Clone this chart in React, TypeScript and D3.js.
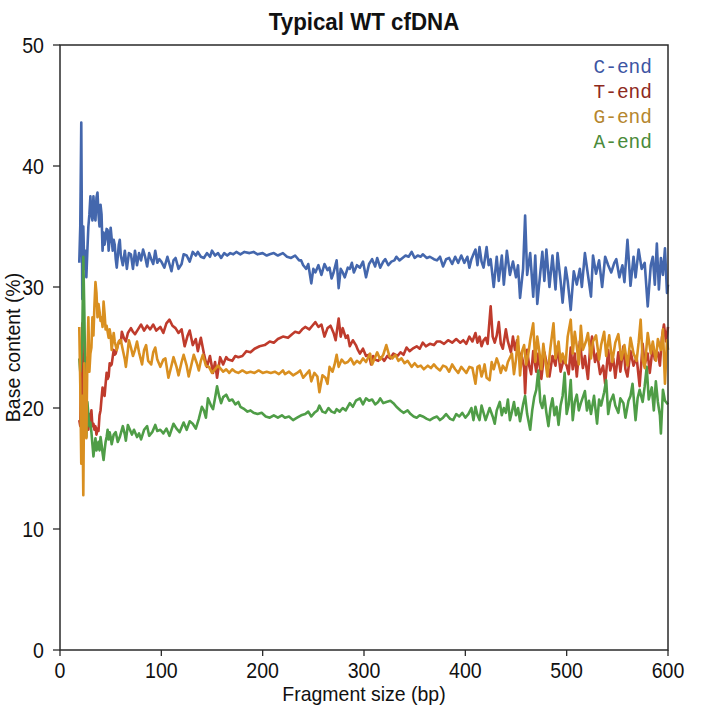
import React from "react";
import * as d3 from "d3";

type Pt = [number, number];

const xTicks = [0, 100, 200, 300, 400, 500, 600];
const yTicks = [0, 10, 20, 30, 40, 50];

const cEnd: Pt[] = [[19,32],[20,35],[21,43.6],[22,29],[23,35],[24,31.5],[25,33],[26,30.8],[27,33],[28,35],[29,36],[30,37.5],[31,36],[32,35.5],[33,37.5],[34,36],[35,35.5],[36,37.4],[37,37.8],[38,36],[39,35],[40,36.8],[41,36],[42,33],[43,34.5],[44,33.5],[45,34],[46,34.8],[47,34.7],[48,33],[49,34],[50,34.9],[51,34],[52,33],[53,33.9],[54,33.5],[55,32.3],[56,31.6],[57,32.5],[58,33.5],[59,33.9],[60,32.6],[62,31.8],[64,33],[66,31.5],[68,32.8],[70,32.7],[72,31.5],[74,33],[76,31.8],[78,32.8],[80,32.2],[82,33.1],[84,32.5],[86,31.7],[88,32.8],[90,32.3],[92,31.9],[94,33],[96,32],[98,32.3],[100,32.1],[103,31.6],[106,32.5],[110,31.3],[112,32.2],[114,32.4],[117,31.5],[120,31.9],[122,32.7],[125,32.6],[128,32.1],[131,32.9],[134,32.6],[136,32.9],[139,32.5],[142,32.4],[145,32.8],[148,32.5],[150,33.0],[153,32.6],[156,32.8],[159,32.4],[162,32.8],[165,32.6],[168,32.8],[171,32.7],[174,32.9],[178,32.7],[182,32.9],[187,32.8],[191,32.9],[195,32.7],[200,32.8],[204,32.6],[207,32.7],[211,32.8],[215,32.6],[220,32.8],[224,32.5],[228,32.4],[232,32.6],[236,32.2],[238,32.2],[240,31.8],[243,31.5],[245,31.9],[248,30.3],[250,31.5],[252,31.2],[255,31.8],[258,31],[261,31.9],[264,31.4],[266,31.6],[268,30.7],[270,31.2],[273,32.2],[275,29.9],[277,31.5],[279,31.2],[281,30.8],[284,31.6],[286,31.5],[288,32.0],[290,31.2],[293,31.8],[296,31.6],[299,32.1],[302,30.8],[305,31.9],[308,32.3],[311,31.7],[313,32.4],[316,31.6],[319,32.1],[321,32.3],[324,31.8],[327,32.1],[330,32.2],[332,32.5],[335,32.2],[338,32.4],[341,32.6],[344,32.5],[347,32.9],[350,32.4],[353,32.6],[356,32.5],[358,32.7],[362,32.4],[365,32.5],[369,32.3],[372,32.2],[375,32.5],[378,31.7],[381,32.3],[384,32.4],[387,31.9],[390,32.5],[393,32.0],[396,32.6],[399,32.0],[402,32.5],[404,31.6],[406,32.3],[408,32.7],[410,33.1],[412,31.8],[414,33.3],[416,32.1],[418,31.6],[421,33.3],[423,31.8],[425,32.3],[428,30.0],[431,32.5],[433,30.5],[436,32.6],[438,30.2],[441,33.0],[444,31.0],[447,32.1],[450,30.8],[452,31.8],[454,29.1],[457,31.5],[459,35.9],[461,31.0],[464,32.8],[467,29.2],[469,32.6],[471,28.6],[474,31.2],[476,32.9],[478,30.5],[480,33.1],[483,30.0],[486,32.6],[489,29.8],[491,32.8],[494,30.5],[496,28.7],[499,31.6],[501,30.5],[504,28.1],[507,31.3],[510,30.2],[513,31.5],[515,30.0],[518,32.8],[521,31.0],[524,29.2],[526,32.6],[529,31.1],[532,32.2],[535,30.0],[538,32.5],[541,31.8],[544,31.2],[547,32.0],[549,32.3],[552,30.8],[555,31.8],[557,30.4],[560,33.9],[563,30.1],[566,32.5],[568,30.8],[571,33.1],[574,31.5],[577,32.0],[580,28.4],[583,31.8],[585,32.5],[587,30.2],[589,33.6],[591,29.8],[593,32.4],[595,31.0],[597,33.2],[599,29.5],[600,30.2]];

const tEnd: Pt[] = [[19,19],[20,18.5],[21,24],[22,27],[23,20.4],[24,22],[25,24.2],[26,21],[27,19.5],[28,18.2],[29,19.5],[30,18.8],[31,19.8],[32,18.5],[33,18.7],[34,18.2],[35,18.5],[36,17.8],[37,18.3],[38,18.1],[39,19.4],[40,19.8],[41,20.8],[42,21.7],[43,21.2],[44,21.0],[45,22.0],[46,22.9],[47,22.4],[48,22.6],[49,23.7],[50,23.5],[51,23.6],[52,24.2],[53,24.8],[54,24.4],[55,24.5],[57,25.2],[59,25.6],[60,25.4],[61,26.3],[63,25.8],[65,25.5],[67,26.2],[70,26.6],[72,26.3],[74,26.1],[77,26.5],[80,26.9],[83,26.4],[86,26.8],[89,26.5],[92,26.9],[95,26.4],[99,26.7],[102,26.2],[105,27.0],[108,27.3],[111,26.8],[114,26.6],[117,26.2],[120,26.5],[123,25.1],[126,26.0],[128,26.4],[131,25.2],[134,25.7],[136,24.7],[139,25.8],[142,24.5],[145,23.4],[148,24.3],[151,22.9],[153,23.8],[155,22.5],[158,24.2],[161,23.6],[164,24.2],[166,24.0],[170,23.9],[173,24.3],[176,24.2],[180,24.3],[184,24.7],[188,24.6],[192,24.9],[197,25.1],[202,25.2],[207,25.5],[211,25.4],[215,25.7],[220,25.9],[225,25.8],[229,26.1],[232,26.3],[236,26.2],[239,26.5],[242,26.7],[246,26.5],[249,26.8],[252,27.1],[255,26.7],[258,26.9],[261,25.9],[264,26.6],[267,26.8],[270,26.2],[272,25.6],[275,27.4],[277,25.9],[279,26.6],[282,25.8],[284,26.0],[286,25.1],[289,25.6],[292,25.2],[294,24.8],[296,24.5],[299,24.9],[302,24.3],[305,24.4],[307,23.6],[309,24.3],[311,24.0],[314,23.9],[317,24.2],[320,23.9],[323,24.3],[326,24.1],[329,24.5],[333,24.3],[336,24.6],[339,24.4],[342,25.0],[345,24.7],[348,24.9],[352,25.1],[355,24.9],[358,25.4],[361,25.1],[365,25.3],[369,25.2],[372,25.5],[375,25.5],[379,25.3],[383,25.6],[387,25.4],[391,25.7],[395,25.4],[398,25.6],[401,25.3],[404,25.9],[407,25.5],[410,26.2],[412,25.4],[414,25.9],[416,25.1],[418,25.6],[420,25.8],[422,25.3],[425,28.4],[427,25.9],[429,25.4],[431,26.0],[433,27.1],[435,25.3],[437,24.9],[440,26.5],[442,25.5],[445,24.6],[447,25.9],[449,24.8],[451,25.6],[453,24.6],[456,24.2],[458,23.3],[459,21.2],[461,24.8],[463,23.5],[465,22.8],[467,24.7],[470,23.0],[472,24.5],[475,22.4],[478,24.6],[481,23.4],[483,22.6],[486,24.3],[489,23.5],[491,25.1],[494,23.0],[497,24.0],[500,23.5],[502,22.8],[504,25.0],[506,23.2],[508,24.5],[510,22.6],[513,25.5],[516,23.3],[518,24.3],[521,22.4],[523,24.8],[525,25.9],[528,23.8],[530,24.5],[533,22.8],[536,23.5],[538,22.0],[541,24.8],[543,23.1],[546,24.1],[548,22.5],[551,24.6],[553,23.0],[556,25.1],[558,23.2],[560,22.6],[563,24.7],[566,23.5],[569,24.2],[572,21.8],[575,25.3],[577,23.6],[580,24.5],[582,22.9],[585,25.1],[587,24.0],[590,24.6],[592,23.5],[594,25.8],[596,26.9],[598,25.5],[600,26.7]];

const gEnd: Pt[] = [[19,26.7],[20,22],[21,15.4],[22,21],[23,12.8],[24,23.7],[25,20],[26,17.5],[27,24],[28,27.5],[29,23],[30,24.5],[31,25],[32,27.5],[33,26],[34,28.5],[35,30.4],[36,29.5],[37,27.5],[38,28.6],[39,28.0],[40,27.2],[41,27.5],[42,26.7],[43,28.8],[44,27.8],[45,26.5],[46,26.8],[47,26.3],[48,25.8],[49,26.5],[50,26.0],[51,24.8],[52,25.5],[53,26.2],[54,25.5],[56,24.8],[58,25.5],[60,25.6],[62,24.8],[64,24.0],[65,23.4],[67,24.8],[68,25.6],[70,25.0],[72,24.3],[74,24.8],[76,25.5],[78,24.6],[81,23.6],[83,24.8],[85,25.2],[87,23.9],[90,23.6],[92,24.6],[94,25.0],[96,24.0],[99,23.4],[102,24.0],[104,24.1],[107,22.5],[110,23.5],[112,24.2],[115,23.4],[117,22.7],[120,23.8],[122,24.4],[125,23.5],[127,22.6],[130,23.7],[132,24.4],[135,23.7],[137,23.1],[139,23.9],[141,24.4],[144,23.5],[147,23.4],[150,22.9],[153,23.2],[156,23.5],[158,23.3],[161,23.0],[164,23.2],[167,22.9],[170,23.2],[173,23.0],[176,22.9],[180,23.1],[184,22.9],[188,23.0],[192,22.9],[196,23.1],[200,22.9],[204,23.0],[208,22.9],[212,23.0],[216,22.8],[220,23.1],[222,22.8],[226,23.0],[230,22.7],[234,22.9],[237,23.1],[240,22.5],[243,22.8],[246,23.1],[248,22.2],[251,22.9],[254,22.6],[256,21.3],[259,22.7],[262,22.5],[264,22.0],[266,23.4],[269,23.0],[271,23.6],[273,24.4],[275,23.4],[278,24.0],[281,23.7],[284,23.8],[287,24.1],[290,23.6],[293,23.9],[296,23.7],[299,24.1],[302,23.8],[306,24.5],[308,23.6],[311,24.2],[313,24.6],[316,24.0],[319,24.4],[322,25.2],[325,24.3],[328,24.1],[331,24.4],[334,23.9],[337,24.1],[340,23.7],[343,23.9],[347,23.4],[350,23.7],[353,23.4],[356,23.5],[359,23.2],[363,23.5],[366,23.3],[369,23.6],[372,23.3],[375,23.1],[378,23.5],[381,23.4],[384,23.0],[387,23.6],[390,23.2],[393,22.9],[396,23.4],[399,23.1],[401,22.9],[404,23.4],[407,23.3],[410,22.0],[412,23.4],[414,23.5],[416,22.6],[418,23.2],[419,23.6],[421,22.5],[424,22.3],[426,23.8],[428,23.2],[431,24.1],[433,23.6],[435,22.9],[437,23.5],[440,23.1],[442,23.8],[446,24.5],[448,22.8],[450,24.0],[452,25.9],[454,22.7],[456,24.7],[458,25.2],[460,23.6],[462,24.4],[464,25.6],[467,27.0],[469,23.8],[471,25.9],[473,24.7],[475,23.2],[477,25.3],[479,23.9],[481,22.6],[484,25.0],[487,27.0],[489,24.1],[492,25.5],[494,23.8],[496,24.5],[499,23.7],[501,25.9],[504,27.3],[506,24.5],[508,26.3],[510,25.1],[512,23.6],[514,26.8],[516,24.8],[519,25.5],[521,26.2],[524,24.1],[526,25.5],[529,26.0],[532,24.0],[534,25.2],[537,26.3],[539,24.3],[542,26.0],[545,23.8],[548,25.4],[551,26.1],[554,24.0],[557,25.2],[560,23.5],[563,25.8],[566,24.5],[569,23.9],[571,25.4],[573,27.3],[575,24.0],[577,23.3],[580,26.2],[583,24.5],[585,25.5],[588,23.9],[590,25.7],[593,24.8],[595,26.5],[597,22.0],[599,25.6],[600,24.8]];

const aEnd: Pt[] = [[19,24.1],[20,23],[21,24],[22,26],[23,32.5],[24,28],[25,22],[26,17.6],[27,20.5],[28,19.5],[29,18.5],[30,18.8],[31,18.0],[32,17.0],[33,16.0],[34,16.8],[35,17.5],[36,16.5],[37,16.8],[38,17.2],[39,16.5],[40,17.6],[41,17.0],[42,16.3],[43,15.7],[44,16.5],[45,17.2],[46,17.6],[47,18.2],[48,17.4],[49,18.0],[50,17.6],[51,17.0],[53,17.8],[55,18.0],[57,17.2],[59,17.6],[62,18.5],[64,17.8],[65,17.3],[67,18.6],[69,18.2],[71,17.8],[73,18.2],[76,17.6],[78,17.9],[80,17.4],[83,18.2],[86,18.5],[88,17.7],[91,18.0],[94,18.6],[96,18.1],[99,18.2],[102,17.9],[105,18.3],[108,17.7],[112,18.7],[115,18.3],[118,18.0],[122,18.8],[125,18.2],[128,18.9],[131,18.7],[134,18.3],[137,19.1],[140,20.1],[142,19.8],[144,19.2],[146,20.8],[149,20.2],[151,19.9],[153,20.8],[155,21.8],[157,21.0],[159,20.4],[161,20.9],[164,21.1],[167,20.6],[170,20.7],[173,20.3],[176,20.5],[178,20.1],[182,19.9],[185,19.7],[188,19.8],[191,19.6],[195,19.5],[199,19.6],[203,19.3],[207,19.2],[211,19.4],[215,19.2],[219,19.4],[222,19.2],[226,19.3],[230,19.0],[234,19.2],[238,19.4],[242,19.5],[245,19.7],[248,19.3],[251,19.6],[254,19.8],[256,20.2],[259,19.7],[262,19.6],[265,20.0],[268,19.7],[271,19.6],[273,19.9],[276,19.7],[279,20.0],[282,19.8],[286,20.4],[289,20.1],[292,20.6],[296,20.8],[299,20.3],[302,20.8],[305,20.6],[308,20.7],[311,20.3],[314,20.5],[316,20.8],[319,20.4],[322,20.5],[326,20.6],[329,20.4],[332,20.1],[336,19.8],[339,19.6],[343,19.8],[346,19.5],[349,19.3],[352,19.2],[355,19.4],[358,19.3],[362,19.1],[365,19.0],[369,19.2],[372,19.3],[375,19.0],[378,19.2],[381,19.5],[385,19.1],[388,19.0],[391,19.5],[394,19.3],[397,19.6],[400,19.2],[403,19.5],[406,20.0],[408,19.0],[410,20.1],[412,19.4],[414,19.0],[416,20.2],[418,19.6],[420,19.0],[422,19.5],[424,20.0],[427,19.3],[429,18.7],[431,19.8],[434,20.5],[436,19.4],[438,20.0],[440,19.6],[442,20.7],[444,19.0],[446,19.7],[448,20.5],[450,19.4],[452,20.0],[454,18.9],[457,20.3],[459,21.0],[461,19.5],[464,18.2],[466,19.8],[468,20.9],[470,21.5],[472,23.1],[474,20.5],[476,20.0],[478,21.0],[480,19.6],[482,18.5],[484,20.0],[486,20.8],[488,19.4],[490,20.1],[492,18.6],[494,20.2],[496,21.0],[498,22.9],[500,19.5],[502,20.3],[504,22.3],[506,19.0],[508,20.5],[510,21.1],[512,19.8],[514,20.4],[516,20.9],[518,21.4],[520,19.8],[522,20.6],[524,19.5],[527,21.0],[530,18.7],[532,20.7],[534,20.2],[537,21.3],[539,22.3],[541,19.5],[543,20.5],[546,21.1],[548,20.2],[551,19.6],[553,20.8],[556,20.4],[558,19.2],[561,20.6],[563,21.0],[565,22.0],[568,19.0],[570,20.8],[572,21.5],[575,20.5],[577,21.8],[579,23.4],[581,20.7],[584,21.7],[586,19.8],[588,22.2],[590,20.5],[592,19.4],[593,17.9],[595,21.5],[597,20.6],[600,20.3]];

const seriesNames = ["C-end", "T-end", "G-end", "A-end"];
const lineColors = ["#4467ad", "#bf3b2c", "#d98f20", "#4f9d47"];
const legendColors = ["#3d55a3", "#8e2a1d", "#b5862e", "#4a8a3a"];
const seriesData = [cEnd, tEnd, gEnd, aEnd];
const drawOrder = [0, 1, 3, 2];

const W = 702, H = 709;
const left = 60, right = 668, top = 45, bottom = 650;

export default function App() {
  const x = d3.scaleLinear().domain([0, 600]).range([left, right]);
  const y = d3.scaleLinear().domain([0, 50]).range([bottom, top]);
  const line = d3.line<Pt>().x(d => x(d[0])).y(d => y(d[1]));
  const font = "'Liberation Sans', Arial, sans-serif";
  const sx = 0.91;
  return (
    <svg width={W} height={H} style={{ position: "absolute", left: 0, top: 0, background: "#fff" }}>
      <rect x={0} y={0} width={W} height={H} fill="#fff" />
      <g transform={`translate(${(left + right) / 2},30) scale(0.95,1)`}>
        <text x={0} y={0} textAnchor="middle" fontFamily={font} fontWeight="bold" fontSize={23.5} fill="#111">Typical WT cfDNA</text>
      </g>
      {drawOrder.map(i => (
        <path key={i} d={line(seriesData[i]) || ""} fill="none" stroke={lineColors[i]} strokeWidth={2.6} strokeLinejoin="round" />
      ))}
      <rect x={left} y={top} width={right - left} height={bottom - top} fill="none" stroke="#2a2a2a" strokeWidth={1.5} />
      {xTicks.map(t => (
        <g key={"x" + t}>
          <line x1={x(t)} x2={x(t)} y1={bottom} y2={bottom + 6} stroke="#2a2a2a" strokeWidth={1.3} />
          <g transform={`translate(${x(t)},${bottom + 28}) scale(${sx},1)`}>
            <text x={0} y={0} textAnchor="middle" fontFamily={font} fontSize={21.5} fill="#111">{t}</text>
          </g>
        </g>
      ))}
      {yTicks.map(t => (
        <g key={"y" + t}>
          <line x1={left - 7} x2={left} y1={y(t)} y2={y(t)} stroke="#2a2a2a" strokeWidth={1.3} />
          <g transform={`translate(${left - 16},${y(t) + 7.5}) scale(${sx},1)`}>
            <text x={0} y={0} textAnchor="end" fontFamily={font} fontSize={21.5} fill="#111">{t}</text>
          </g>
        </g>
      ))}
      <g transform={`translate(${(left + right) / 2},701) scale(0.95,1)`}>
        <text x={0} y={0} textAnchor="middle" fontFamily={font} fontSize={20.5} fill="#111">Fragment size (bp)</text>
      </g>
      <g transform={`translate(20,${(top + bottom) / 2}) rotate(-90) scale(0.95,1)`}>
        <text x={0} y={0} textAnchor="middle" fontFamily={font} fontSize={20.5} fill="#111">Base content (%)</text>
      </g>
      {seriesNames.map((n, i) => (
        <text key={n} x={652} y={73 + i * 25} textAnchor="end" fontFamily="'Liberation Mono', 'DejaVu Sans Mono', monospace" fontSize={19.5} fill={legendColors[i]}>{n}</text>
      ))}
    </svg>
  );
}
